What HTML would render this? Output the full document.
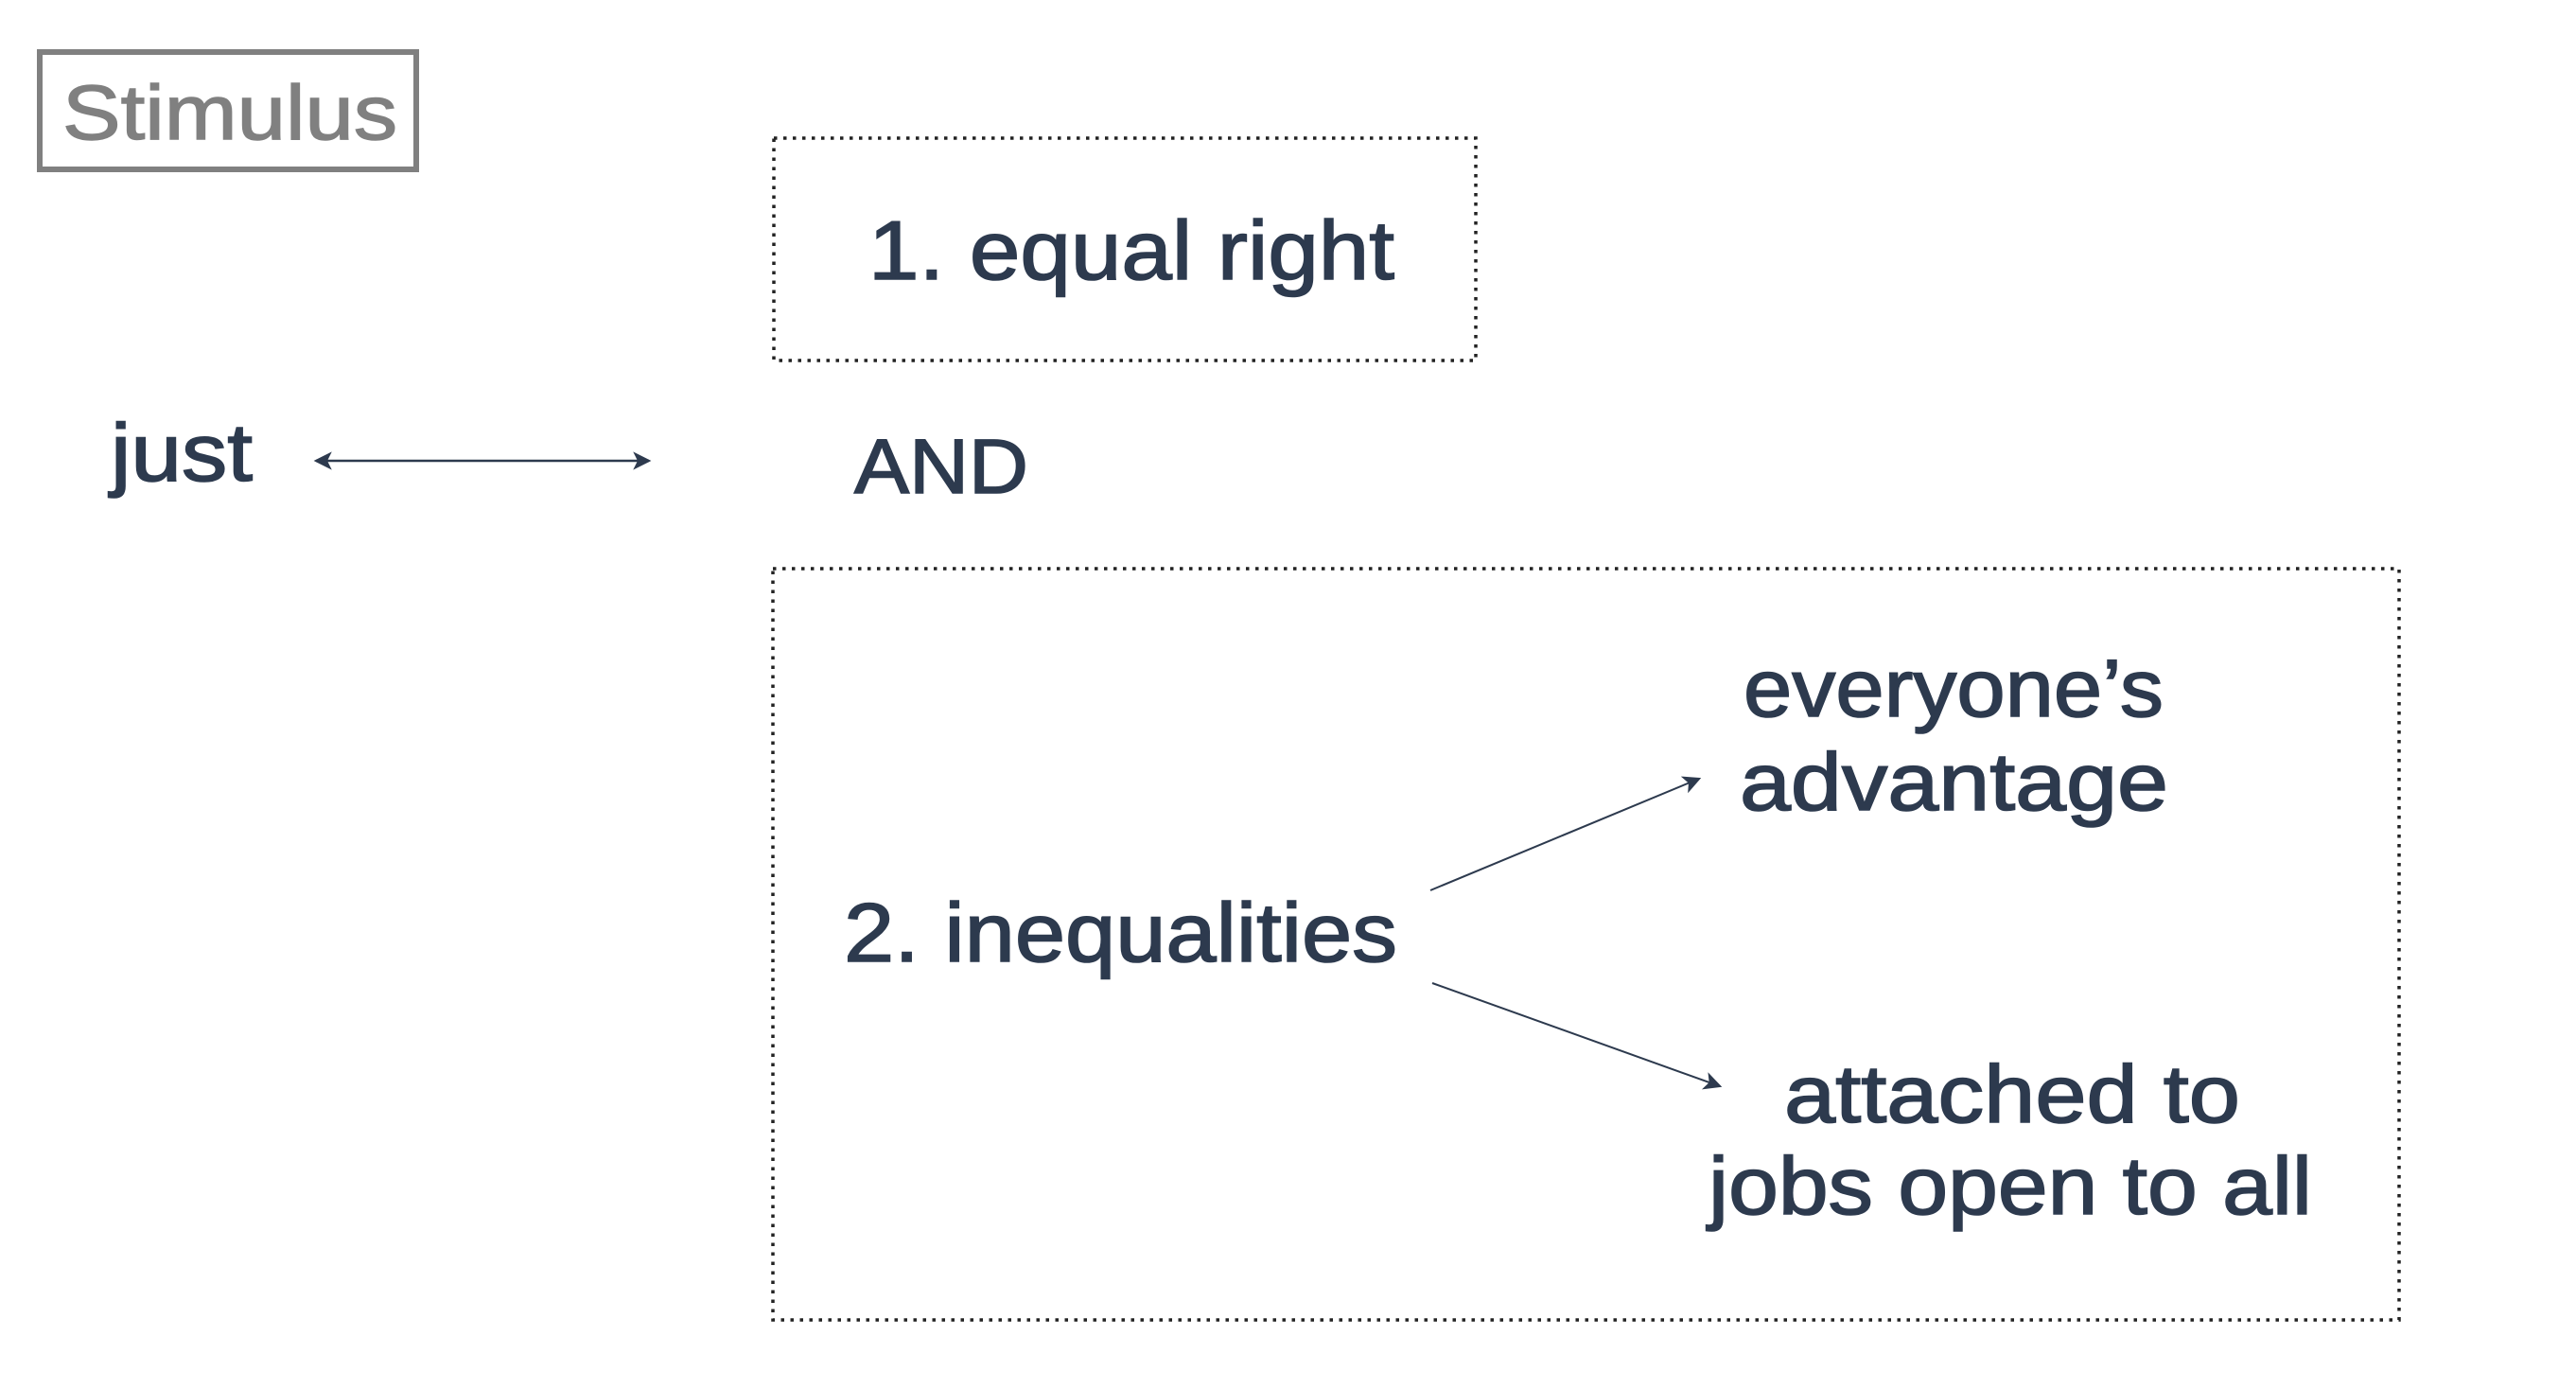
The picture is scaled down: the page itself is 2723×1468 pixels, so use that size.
<!DOCTYPE html>
<html><head><meta charset="utf-8"><style>
html,body{margin:0;padding:0;background:#fff;}
svg{display:block;}
text{font-family:"Liberation Sans",sans-serif;}
.t{fill:#2d3a4e;stroke:#2d3a4e;stroke-width:1.6;}
</style></head><body>
<svg width="2723" height="1468" viewBox="0 0 2723 1468" xmlns="http://www.w3.org/2000/svg">
<defs>
<marker id="ah" viewBox="0 0 20 20" refX="16" refY="10" markerWidth="24" markerHeight="24" markerUnits="userSpaceOnUse" orient="auto-start-reverse">
<path d="M2,2 L18,10 L2,18 L6,10 Z" fill="#2d3a4e"/>
</marker>
</defs>
<rect x="42" y="55" width="398" height="124" fill="none" stroke="#808080" stroke-width="6"/>
<text x="66" y="147" font-size="82" fill="#808080" stroke="#808080" stroke-width="1.4" textLength="354" lengthAdjust="spacingAndGlyphs">Stimulus</text>

<rect x="818" y="146" width="742" height="235" fill="none" stroke="#222" stroke-width="3.5" stroke-dasharray="3.5 6.5"/>
<text class="t" x="918" y="295" font-size="88" textLength="556" lengthAdjust="spacingAndGlyphs">1.  equal right</text>

<text class="t" x="117" y="508" font-size="86" textLength="150" lengthAdjust="spacingAndGlyphs">just</text>
<line x1="334" y1="487" x2="686" y2="487" stroke="#2d3a4e" stroke-width="2.5" marker-start="url(#ah)" marker-end="url(#ah)"/>

<text class="t" x="903" y="521" font-size="82" textLength="184" lengthAdjust="spacingAndGlyphs">AND</text>

<rect x="817" y="601" width="1719" height="794" fill="none" stroke="#222" stroke-width="3.5" stroke-dasharray="3.5 6.5"/>
<text class="t" x="892" y="1016" font-size="88" textLength="585" lengthAdjust="spacingAndGlyphs">2.  inequalities</text>

<line x1="1512" y1="941" x2="1796" y2="823" stroke="#2d3a4e" stroke-width="2" marker-end="url(#ah)"/>
<line x1="1514" y1="1039" x2="1818" y2="1148" stroke="#2d3a4e" stroke-width="2" marker-end="url(#ah)"/>

<text class="t" x="1843" y="757" font-size="86" textLength="444" lengthAdjust="spacingAndGlyphs">everyone’s</text>
<text class="t" x="1839" y="856" font-size="86" textLength="453" lengthAdjust="spacingAndGlyphs">advantage</text>
<text class="t" x="1886" y="1186" font-size="86" textLength="482" lengthAdjust="spacingAndGlyphs">attached to</text>
<text class="t" x="1806" y="1283" font-size="86" textLength="638" lengthAdjust="spacingAndGlyphs">jobs open to all</text>
</svg>
</body></html>
